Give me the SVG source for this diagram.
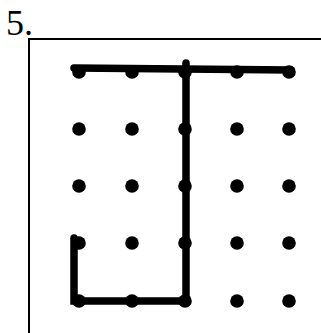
<svg xmlns="http://www.w3.org/2000/svg" width="321" height="333" viewBox="0 0 321 333">
<style>
.dot{fill:#000}
.ln{stroke:#000;stroke-width:7.5;stroke-linecap:round;fill:none}
.fr{stroke:#000;stroke-width:2;fill:none}
</style>
<rect width="321" height="333" fill="#fff"/>
<text x="6" y="35" font-family="Liberation Serif, serif" font-size="36">5.</text>
<path class="fr" d="M321,39 H29 V333"/>
<g id="dots">
<g id="r1"><circle class="dot" cx="79" cy="72" r="6.8"/><circle class="dot" cx="132" cy="72" r="6.8"/><circle class="dot" cx="185" cy="72" r="6.8"/><circle class="dot" cx="237" cy="72" r="6.8"/><circle class="dot" cx="289" cy="72" r="6.8"/></g>
<g id="r2"><circle class="dot" cx="79" cy="129" r="6.8"/><circle class="dot" cx="132" cy="129" r="6.8"/><circle class="dot" cx="185" cy="129" r="6.8"/><circle class="dot" cx="237" cy="129" r="6.8"/><circle class="dot" cx="289" cy="129" r="6.8"/></g>
<g id="r3"><circle class="dot" cx="79" cy="186" r="6.8"/><circle class="dot" cx="132" cy="186" r="6.8"/><circle class="dot" cx="185" cy="186" r="6.8"/><circle class="dot" cx="237" cy="186" r="6.8"/><circle class="dot" cx="289" cy="186" r="6.8"/></g>
<g id="r4"><circle class="dot" cx="79" cy="243" r="6.8"/><circle class="dot" cx="132" cy="243" r="6.8"/><circle class="dot" cx="185" cy="243" r="6.8"/><circle class="dot" cx="237" cy="243" r="6.8"/><circle class="dot" cx="289" cy="243" r="6.8"/></g>
<g id="r5"><circle class="dot" cx="79" cy="301" r="6.8"/><circle class="dot" cx="132" cy="301" r="6.8"/><circle class="dot" cx="185" cy="301" r="6.8"/><circle class="dot" cx="237" cy="301" r="6.8"/><circle class="dot" cx="289" cy="301" r="6.8"/></g>
</g>
<g id="connectors">
<path class="ln" d="M74,68 L291,70"/>
<path class="ln" d="M186,63 V301"/>
<path class="ln" d="M74,238 V301 H185"/>
</g>
</svg>
